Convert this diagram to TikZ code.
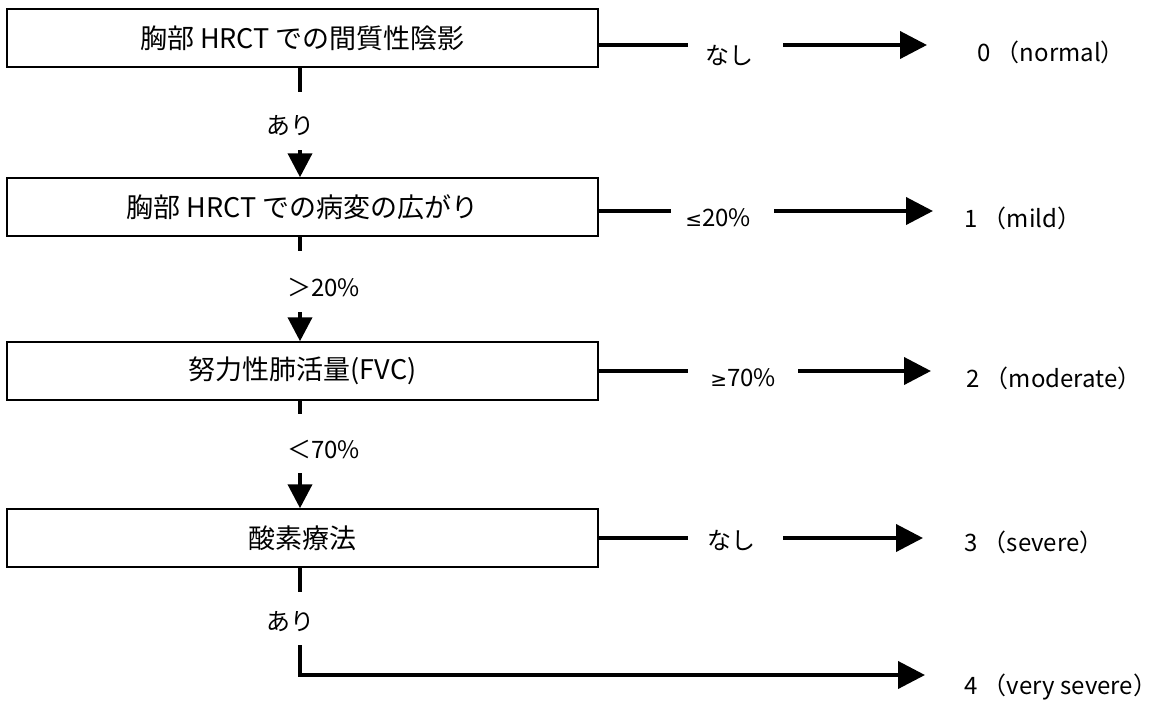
\documentclass[tikz,border=0pt]{standalone}
\usepackage{fontspec}
\setmainfont{Noto Sans CJK JP}
\newfontfamily\mathsign{DejaVu Sans}
\usetikzlibrary{arrows.meta}

\begin{document}
\begin{tikzpicture}[%
		x=1pt, y=-1pt,
		criterion/.style={%
			draw,
			line width=1.5pt,
			minimum width=591pt,
			minimum height=58pt,
			inner sep=0pt,
			font=\fontsize{27}{31}\selectfont
		},
		answer/.style={%
			inner sep=0pt,
			font=\fontsize{24}{28}\selectfont
		},
		grade/.style={%
			answer,
			anchor=west
		},
		link/.style={line width=4pt},
		downlink/.style={link, -{Triangle[length=24pt, width=24pt]}},
		rightlink/.style={link, -{Triangle[length=27pt, width=27pt]}}
	]

	\useasboundingbox (0, 0) rectangle (1165, 702);

	% criteria
	\node[criterion] (shadow) at (302.5, 38) {胸部 HRCT での間質性陰影};
	\node[criterion] (extent) at (302.5, 207) {胸部 HRCT での病変の広がり};
	\node[criterion] (fvc) at (302.5, 371) {努力性肺活量(FVC)};
	\node[criterion] (oxygen) at (302.5, 538) {酸素療法};

	% grades
	\node[grade] (normal) at (977, 52) {0 （normal）};
	\node[grade] (mild) at (964, 218) {1 （mild）};
	\node[grade] (moderate) at (966, 378) {2 （moderate）};
	\node[grade] (severe) at (964, 542) {3 （severe）};
	\node[grade] (verysevere) at (964, 687) {4 （very severe）};

	% answers going down
	\node[answer] (yes1) at (290, 126) {あり};
	\node[answer, anchor=west] (over20) at (287, 287) {＞20\%};
	\node[answer, anchor=west] (under70) at (287, 449) {＜70\%};
	\node[answer] (yes2) at (290, 622) {あり};

	\coordinate (d1a) at (300, 92);
	\coordinate (d1b) at (300, 150);
	\coordinate (d2a) at (300, 251);
	\coordinate (d2b) at (300, 312);
	\coordinate (d3a) at (300, 414);
	\coordinate (d3b) at (300, 473);
	\coordinate (d4a) at (300, 592);
	\coordinate (d4b) at (300, 645);
	\coordinate (corner) at (300, 675);
	\coordinate (end4) at (925, 675);

	\draw[link] (d1a |- shadow.south) -- (d1a);
	\draw[downlink] (d1b) -- (d1b |- extent.north);
	\draw[link] (d2a |- extent.south) -- (d2a);
	\draw[downlink] (d2b) -- (d2b |- fvc.north);
	\draw[link] (d3a |- fvc.south) -- (d3a);
	\draw[downlink] (d3b) -- (d3b |- oxygen.north);
	\draw[link] (d4a |- oxygen.south) -- (d4a);
	\draw[rightlink] (d4b) -- (corner) -- (end4);

	% answers going right
	\node[answer] (no1) at (729, 55) {なし};
	\node[answer] (upto20) at (718, 218) {{\mathsign\fontsize{20}{24}\selectfont ≤}20\%};
	\node[answer] (from70) at (743, 378) {{\mathsign\fontsize{20}{24}\selectfont ≥}70\%};
	\node[answer] (no2) at (731, 540) {なし};

	\coordinate (r1a) at (688, 45);
	\coordinate (r1b) at (783, 45);
	\coordinate (r1c) at (927, 45);
	\coordinate (r2a) at (671, 211);
	\coordinate (r2b) at (774, 211);
	\coordinate (r2c) at (933, 211);
	\coordinate (r3a) at (688, 371);
	\coordinate (r3b) at (798, 371);
	\coordinate (r3c) at (931, 371);
	\coordinate (r4a) at (688, 538);
	\coordinate (r4b) at (783, 538);
	\coordinate (r4c) at (923, 538);

	\draw[link] (r1a -| shadow.east) -- (r1a);
	\draw[rightlink] (r1b) -- (r1c);
	\draw[link] (r2a -| extent.east) -- (r2a);
	\draw[rightlink] (r2b) -- (r2c);
	\draw[link] (r3a -| fvc.east) -- (r3a);
	\draw[rightlink] (r3b) -- (r3c);
	\draw[link] (r4a -| oxygen.east) -- (r4a);
	\draw[rightlink] (r4b) -- (r4c);

	% \node (note) at (600, 700) {};
\end{tikzpicture}
\end{document}
